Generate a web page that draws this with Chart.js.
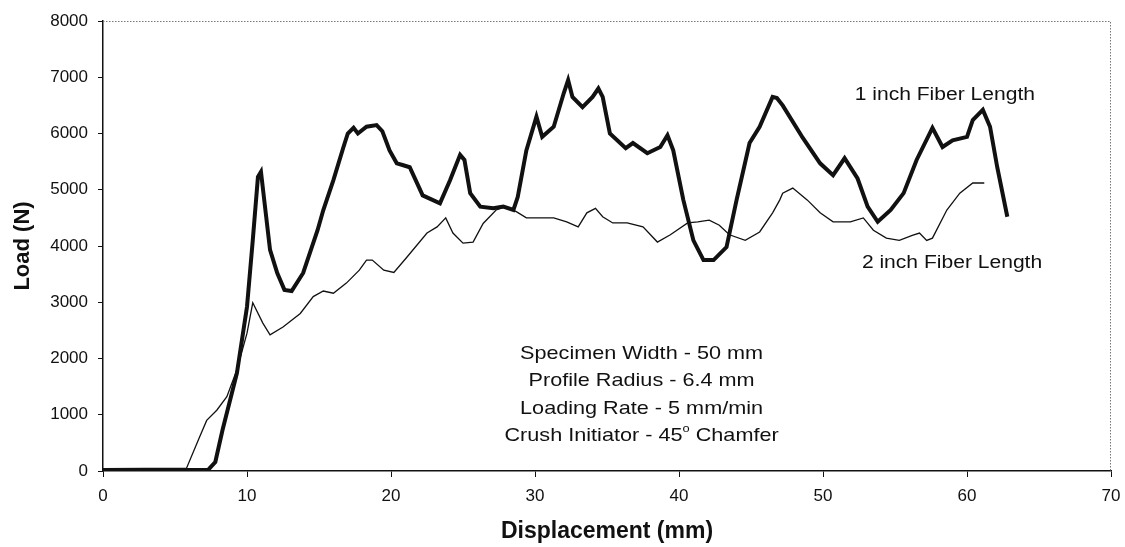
<!DOCTYPE html>
<html lang="en">
<head>
<meta charset="UTF-8">
<title>Load vs Displacement</title>
<script src="https://cdn.jsdelivr.net/npm/chart.js"></script>
<style>
  body { margin: 0; background: #fff; }
  #wrap { width: 1125px; height: 547px; }
</style>
</head>
<body>
<div id="wrap"><canvas id="loadChart" width="1125" height="547"></canvas></div>
<script>
// 1 inch fiber length: displacement (mm) / load (N)
const disp1 = [
  0, 7.3, 7.8, 8.3, 9.3, 10.0, 10.4, 10.76, 10.97, 11.25,
  11.6, 12.1, 12.6, 13.1, 13.9, 14.9, 15.3, 16.0, 16.7, 17.0,
  17.4, 17.7, 18.3, 19.0, 19.4, 19.9, 20.4, 20.8, 21.3, 22.2,
  23.4, 24.1, 24.8, 25.1, 25.5, 26.2, 27.1, 27.8, 28.5, 28.8,
  29.4, 30.1, 30.5, 31.3, 32.0, 32.3, 32.6, 33.3, 34.0, 34.4,
  34.7, 35.2, 36.3, 36.8, 37.8, 38.7, 39.2, 39.6, 40.3, 41.0,
  41.7, 42.4, 43.3, 44.0, 44.9, 45.6, 46.5, 46.8, 47.2, 48.6,
  49.8, 50.7, 51.5, 52.4, 53.1, 53.8, 54.7, 55.6, 56.5, 57.6,
  58.3, 59.0, 60.0, 60.4, 61.1, 61.6, 62.1, 62.8
];
const load1 = [
  20, 20, 160, 730, 1740, 2920, 4100, 5230, 5320, 4700,
  3930, 3520, 3220, 3200, 3520, 4280, 4640, 5170, 5760, 6000,
  6100, 6000, 6120, 6150, 6040, 5700, 5470, 5440, 5400, 4900,
  4760, 5170, 5620, 5530, 4940, 4700, 4670, 4700, 4640, 4870,
  5700, 6300, 5940, 6120, 6720, 6950, 6650, 6470, 6650, 6800,
  6650, 6000, 5740, 5830, 5650, 5760, 5970, 5700, 4820, 4100,
  3750, 3750, 3980, 4820, 5830, 6120, 6650, 6630, 6500, 5920,
  5470, 5260, 5560, 5200, 4700, 4430, 4640, 4940, 5530, 6100,
  5760, 5880, 5940, 6240, 6420, 6120, 5400, 4520
];

// 2 inch fiber length
const disp2 = [
  0, 5.8, 6.7, 7.2, 7.9, 8.6, 9.3, 10.0, 10.4, 11.1,
  11.6, 12.5, 13.7, 14.6, 15.3, 16.0, 16.9, 17.8, 18.3, 18.7,
  19.5, 20.2, 21.1, 22.5, 23.2, 23.8, 24.3, 25.0, 25.7, 26.4,
  27.3, 28.0, 28.7, 29.4, 30.3, 31.3, 32.2, 33.0, 33.6, 34.2,
  34.7, 35.4, 36.4, 37.5, 38.5, 39.4, 40.6, 41.3, 42.1, 42.8,
  43.5, 44.6, 45.6, 46.5, 47.0, 47.2, 47.9, 48.9, 49.8, 50.7,
  51.9, 52.8, 53.5, 54.4, 55.3, 56.2, 56.7, 57.2, 57.6, 58.6,
  59.5, 60.4, 61.2
];
const load2 = [
  40, 50, 600, 900, 1080, 1320, 1800, 2450, 2990, 2630,
  2420, 2560, 2800, 3100, 3200, 3160, 3340, 3570, 3750, 3750,
  3570, 3530, 3800, 4230, 4340, 4500, 4230, 4050, 4070, 4400,
  4640, 4700, 4610, 4500, 4500, 4500, 4430, 4340, 4590, 4670,
  4520, 4410, 4410, 4340, 4070, 4200, 4410, 4430, 4460, 4370,
  4200, 4100, 4250, 4590, 4820, 4940, 5030, 4820, 4590, 4430,
  4430, 4500, 4280, 4140, 4100, 4190, 4230, 4100, 4140, 4640,
  4940, 5120, 5120
];

const xTicks = [0, 10, 20, 30, 40, 50, 60, 70];
const yTicks = [0, 1000, 2000, 3000, 4000, 5000, 6000, 7000, 8000];
const seriesNames = ['1 inch Fiber Length', '2 inch Fiber Length'];
const testNotes = [
  [['Specimen Width - 50 mm', false]],
  [['Profile Radius - 6.4 mm', false]],
  [['Loading Rate - 5 mm/min', false]],
  [['Crush Initiator - 45', false], ['o', true], [' Chamfer', false]]
];

const INK = '#111';
const FONT = '"Liberation Sans", Arial, sans-serif';
const toPoints = (xs, ys) => xs.map((v, i) => ({ x: v, y: ys[i] }));

// the printed text is a bit wider than normal Arial, so stretch it
const STRETCH = 1.17;

function drawParts(ctx, parts, cx, cy, size, align) {
  const supSize = Math.round(size * 0.6);
  let total = 0;
  const widths = parts.map(([t, sup]) => {
    ctx.font = (sup ? supSize : size) + 'px ' + FONT;
    const w = ctx.measureText(t).width;
    total += w;
    return w;
  });
  ctx.save();
  ctx.translate(cx, cy);
  ctx.scale(STRETCH, 1);
  let x = align === 'center' ? -total / 2 : 0;
  ctx.textAlign = 'left';
  parts.forEach(([t, sup], i) => {
    ctx.font = (sup ? supSize : size) + 'px ' + FONT;
    ctx.fillText(t, x, sup ? -size * 0.38 : 0);
    x += widths[i];
  });
  ctx.restore();
}

const overlay = {
  id: 'overlay',
  afterDatasetsDraw(chart) {
    const { ctx, chartArea: a, scales: { x, y } } = chart;
    ctx.save();
    // dotted frame along top and right
    ctx.strokeStyle = '#777';
    ctx.lineWidth = 1;
    ctx.setLineDash([1.5, 1.5]);
    ctx.beginPath();
    ctx.moveTo(a.left, a.top + 0.5);
    ctx.lineTo(a.right - 0.5, a.top + 0.5);
    ctx.lineTo(a.right - 0.5, a.bottom);
    ctx.stroke();
    ctx.setLineDash([]);

    ctx.fillStyle = INK;
    ctx.textBaseline = 'middle';
    drawParts(ctx, [[seriesNames[0], false]], x.getPixelForValue(52.2), y.getPixelForValue(6690), 18, 'left');
    drawParts(ctx, [[seriesNames[1], false]], x.getPixelForValue(52.7), y.getPixelForValue(3700), 18, 'left');

    const cx = x.getPixelForValue(37.4);
    const top = y.getPixelForValue(2090);
    testNotes.forEach((parts, i) => {
      drawParts(ctx, parts, cx, top + i * 27.5, 18.5, 'center');
    });
    ctx.restore();
  }
};

new Chart(document.getElementById('loadChart'), {
  type: 'line',
  data: {
    datasets: [
      {
        label: seriesNames[0],
        data: toPoints(disp1, load1),
        borderColor: INK,
        borderWidth: 4,
        pointRadius: 0,
        tension: 0,
        fill: false
      },
      {
        label: seriesNames[1],
        data: toPoints(disp2, load2),
        borderColor: INK,
        borderWidth: 1.3,
        pointRadius: 0,
        tension: 0,
        fill: false
      }
    ]
  },
  options: {
    responsive: false,
    animation: false,
    layout: { padding: { top: 21, right: 14, left: 0, bottom: 0 } },
    plugins: {
      legend: { display: false },
      tooltip: { enabled: false }
    },
    scales: {
      x: {
        type: 'linear',
        min: 0,
        max: 70,
        afterBuildTicks: s => { s.ticks = xTicks.map(v => ({ value: v })); },
        afterFit: s => { s.height = 76; s.paddingLeft = 0; s.paddingRight = 0; },
        ticks: { font: { family: FONT, size: 17 }, color: INK, padding: 9, maxRotation: 0, callback: v => String(v) },
        grid: { drawOnChartArea: false, tickLength: 6, color: INK, lineWidth: 1 },
        border: { color: INK, width: 1.5 },
        title: {
          display: true,
          text: 'Displacement (mm)',
          color: INK,
          font: { family: FONT, size: 23, weight: 'bold' },
          padding: { top: 0, bottom: 2 }
        }
      },
      y: {
        min: 0,
        max: 8000,
        afterBuildTicks: s => { s.ticks = yTicks.map(v => ({ value: v })); },
        afterFit: s => { s.width = 103; },
        ticks: { font: { family: FONT, size: 17 }, color: INK, padding: 10, callback: v => String(v) },
        grid: { drawOnChartArea: false, tickLength: 5, color: INK, lineWidth: 1 },
        border: { color: INK, width: 1.5 },
        title: {
          display: true,
          text: 'Load (N)',
          color: INK,
          font: { family: FONT, size: 22, weight: 'bold' },
          padding: { top: 10, bottom: 0 }
        }
      }
    }
  },
  plugins: [overlay]
});
</script>
</body>
</html>
